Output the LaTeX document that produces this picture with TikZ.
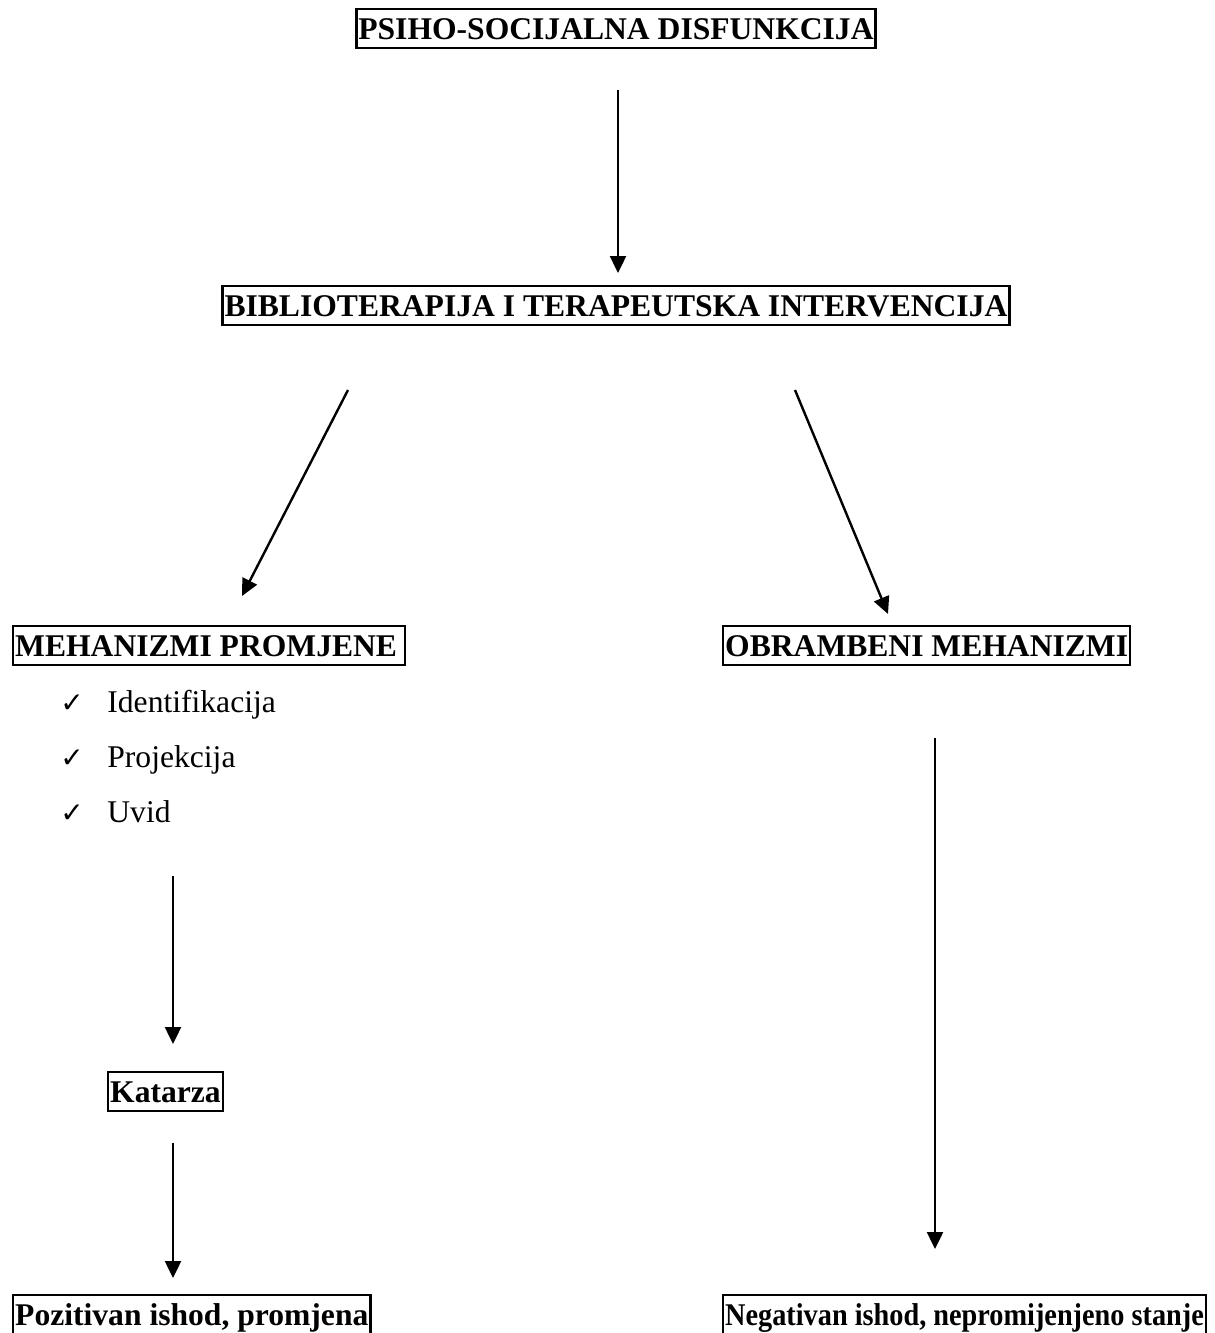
\documentclass[tikz,border=0pt]{standalone}
\usepackage{fontspec}
\setmainfont{Liberation Serif}
\newfontfamily\symfont{DejaVu Sans}
\usetikzlibrary{arrows.meta}
\begin{document}
\fontsize{15.8}{19}\selectfont
\begin{tikzpicture}[x=0.5pt,y=-0.5pt]
    \tikzstyle{okvir} = [draw, line width=1.2pt, inner xsep=1pt, inner ysep=1pt, text height=0.89em, text depth=0.22em, font=\bfseries]
    \tikzstyle{strelica} = [-{Triangle[length=8.5pt,width=8pt]}, line width=1.2pt]
    \tikzstyle{stavka} = [anchor=base west, inner sep=0pt]
    \tikzstyle{kvacica} = [anchor=base west, inner sep=0pt, font=\symfont\fontsize{14}{16}\selectfont]
    \useasboundingbox (0,0) rectangle (1215,1333);
    \clip (0,0) rectangle (1215,1333);
    % okviri
    \node[okvir, anchor=north] (psiho) at (616,8) {PSIHO-SOCIJALNA DISFUNKCIJA};
    \node[okvir, anchor=north] (biblio) at (616,285) {BIBLIOTERAPIJA I TERAPEUTSKA INTERVENCIJA};
    \node[okvir, anchor=north west] (mehanizmi) at (12,625) {MEHANIZMI PROMJENE\hspace*{3pt}};
    \node[okvir, anchor=north west] (obrana) at (722,625) {OBRAMBENI MEHANIZMI};
    \node[okvir, anchor=north west] (katarza) at (107,1071) {Katarza};
    \node[okvir, anchor=north west] (pozitivan) at (12,1294) {Pozitivan ishod, promjena};
    \node[okvir, anchor=north west] (negativan) at (722,1294) {\scalebox{0.895}[1]{Negativan ishod, nepromijenjeno stanje}};
    % popis
    \node[kvacica] (kv1) at (60,712) {✓};
    \node[kvacica] (kv2) at (60,767) {✓};
    \node[kvacica] (kv3) at (60,822) {✓};
    \node[stavka] (ident) at (107,712) {Identifikacija};
    \node[stavka] (proj) at (107,767) {Projekcija};
    \node[stavka] (uvid) at (107,822) {Uvid};
    % krajevi strelica
    \coordinate (a1) at (618,90);
    \coordinate (b1) at (618,273);
    \coordinate (a2) at (348,390);
    \coordinate (b2) at (242,596);
    \coordinate (a3) at (795,390);
    \coordinate (b3) at (888,614);
    \coordinate (a4) at (173,876);
    \coordinate (b4) at (173,1044);
    \coordinate (a5) at (173,1143);
    \coordinate (b5) at (173,1278);
    \coordinate (a6) at (935,738);
    \coordinate (b6) at (935,1249);
    % strelice
    \draw[strelica] (a1) -- (b1);
    \draw[strelica] (a2) -- (b2);
    \draw[strelica] (a3) -- (b3);
    \draw[strelica] (a4) -- (b4);
    \draw[strelica] (a5) -- (b5);
    \draw[strelica] (a6) -- (b6);
\end{tikzpicture}
\end{document}
